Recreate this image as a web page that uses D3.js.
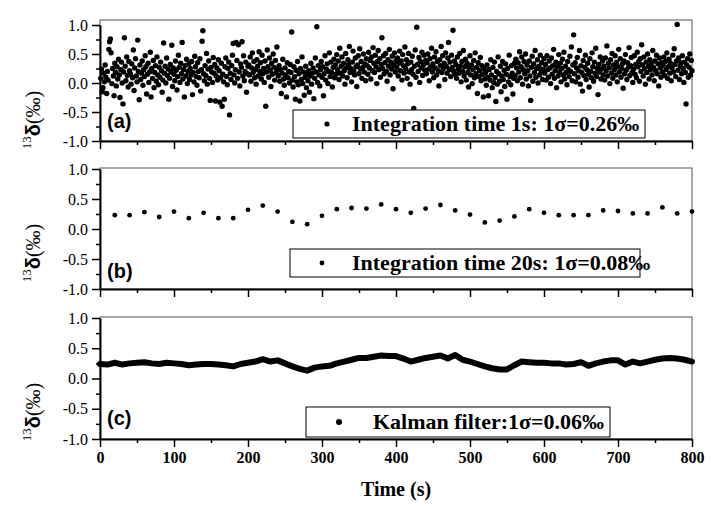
<!DOCTYPE html>
<html lang="en">
<head>
<meta charset="UTF-8">
<script src="https://cdn.jsdelivr.net/npm/d3@7"></script>
<title>13C delta noise</title>
<style>
    body { margin: 0; background: #fff; }
    svg { display: block; }
    .serif { font-family: "Liberation Serif", "Times New Roman", serif; }
    .sans { font-family: "Liberation Sans", Arial, sans-serif; }
</style>
</head>
<body>
<script>
// raw 1 s readings, delta in 1/100 per mille (t = 1..800 s)
const rawOneSec = [
    8, 24, -15, -8, 17, 2, 31, 10, -18, 20, 5, 58, 71, 76, 52, -1, 25, 12, -22, 34, 18, -5, 28, 7, 41, 14, -25, 23, 36, 0, -36, 19, 78, 29, 4, 45, 13, -7, 37, 21,
    16, -2, 33, 9, 57, -13, 26, 42, 12, 2, 74, 20, -29, 31, 6, 17, 38, -4, 23, 11, 47, 28, -19, 15, 34, 1, 19, 53, -24, 25, 8, 39, -8, 18, 30, 3, 45, 14, -3, 27,
    10, 36, 21, -16, 5, 69, 17, 29, 0, 43, 13, 24, -28, 8, 32, 19, 65, -6, 26, 15, 4, 38, 22, -12, 11, 48, 27, 1, 34, 16, 70, 7, 23, -24, 30, 12, 41, -1, 20, 33,
    6, 25, 14, 37, -20, 18, 2, 46, 28, 11, -4, 35, 20, 9, 42, -14, 23, 72, 90, 16, 4, 30, 13, 51, -2, 24, 38, 8, -30, 27, 19, 1, 44, 17, 32, -31, 12, 26, 5, 40,
    21, -33, 9, 34, -40, 15, 2, -28, 28, 43, 11, -3, 25, 36, -55, 17, 6, 30, 48, 68, 14, 0, 23, 70, 39, 8, 66, 19, -5, 33, 27, 71, 12, 47, 4, 20, 36, -16, 16, 29,
    31, 14, 45, 3, 26, 52, 18, 37, 9, 23, -2, 40, 29, 12, 54, 20, 35, 7, 48, 16, 25, 1, 38, -40, 19, 57, 28, 10, 43, 21, -6, 34, 15, 50, 27, 5, 39, 18, 62, 24,
    12, 30, 3, 23, -18, 17, 41, 7, -4, 26, 14, -24, 35, 9, 20, 0, 32, 18, 88, 5, -7, 28, 11, -28, 22, 2, 37, -3, 16, -31, 25, 6, 45, -1, 19, -21, 10, 29, -8, 15,
    4, 21, -16, 12, 34, -2, 17, 26, -27, 8, 43, 19, 97, 1, 30, 14, -5, 23, 37, 10, 28, -22, 16, 47, 5, 24, 33, -1, 20, 52, 11, 36, 18, -7, 27, 41, 9, 31, 15, 49,
    23, 38, 6, 60, 17, 29, 45, 12, 34, 21, -2, 51, 26, 9, 40, 32, 63, 18, 25, 2, 36, 55, 20, 14, 43, 28, -6, 31, 47, 16, 59, 24, 37, 8, 27, 50, 19, 33, 4, 42,
    30, 15, 53, 26, 39, 7, 45, 21, 61, 34, 18, 48, 28, -1, 37, 56, 23, 42, 10, 32, 78, 25, 47, 16, 35, 51, 20, 3, 40, 29, 58, 14, 36, 24, 46, -10, 31, 52, 19, 38,
    27, 43, 12, 34, 55, 21, 38, 5, 49, 30, 17, 62, 25, 40, 8, 33, 51, 19, -2, 36, 23, 46, 15, -44, 29, 57, 10, 96, 32, 20, 44, 1, 37, 26, 53, 13, 31, 48, 22, 39,
    16, 35, 50, 24, 4, 42, 28, 60, 19, 33, 9, 45, 26, 54, 14, 37, 21, -5, 40, 30, 63, 18, 47, 25, 34, 6, 52, 29, 17, 43, 70, 23, 36, 11, 48, 27, 91, 20, 38, 15,
    32, 8, 45, 24, 17, 51, 29, 2, 37, 20, 56, 12, 28, 41, 5, 34, 18, -7, 26, 47, 14, 31, -1, 23, 39, 9, 52, 16, 27, -18, 35, 11, 21, 44, 4, 30, 15, -24, 25, 7,
    18, -4, 31, 10, -22, 23, 5, 40, 14, -8, 27, 1, 36, 9, -32, 20, -2, 45, 16, 3, 29, -15, 12, 37, 6, 22, -6, 33, 15, -28, 25, 2, 48, 11, -3, 30, 17, -19, 8, 34,
    13, 41, 26, 4, 35, 19, 54, 9, 28, 45, -2, 23, 37, 16, 50, 7, 31, 21, -5, 38, 12, -30, 27, 46, 3, 33, 18, 56, 10, 25, 40, 0, 29, 14, 48, 21, 35, 6, 24, 42,
    17, 32, 5, 47, 23, 10, 38, 26, -1, 43, 15, 30, 58, 8, 21, 36, -8, 28, 12, 49, 19, 34, 2, 25, 41, 14, 53, 7, 29, 18, -3, 37, 23, 11, 46, 20, 62, 4, 31, 83,
    16, 35, 2, 26, 44, 10, 21, 56, -2, 30, 18, -14, 39, 13, 27, 48, 6, 23, 34, 15, -7, 42, 20, 9, 52, 28, 3, 36, 17, 60, 11, 25, -20, 32, 19, 45, 7, 24, 38, 14,
    29, 5, 43, 21, 64, 12, 34, 26, -1, 40, 17, 51, 8, 31, 23, 47, 14, 36, 2, 28, 58, 19, 42, 10, 25, 33, -9, 38, 16, 49, 22, 6, 35, 27, 61, 13, 30, 44, 18, 1,
    24, 47, 15, 32, 9, 53, 28, 37, 3, 42, 20, 66, 31, 12, 45, 25, -2, 36, 18, 50, 29, 7, 40, 23, 34, 14, 56, 27, 4, 38, 21, 48, 16, 33, -5, 43, 26, 10, 35, 19,
    30, 45, 13, 37, 23, 52, 8, 28, 41, 17, 34, 4, 26, 48, 19, 59, 32, 11, 38, 101, 22, 43, 6, 29, 35, 16, 47, 25, 1, 36, 18, -36, 31, 42, 10, 27, 50, 14, 39, 21
];

// 20 s averages (t = 20..800 s)
const avgTwentySec = [
    0.23, 0.23, 0.28, 0.20, 0.29, 0.18, 0.27, 0.18, 0.18, 0.32,
    0.39, 0.29, 0.12, 0.08, 0.22, 0.33, 0.35, 0.34, 0.41, 0.33,
    0.27, 0.34, 0.40, 0.31, 0.24, 0.11, 0.14, 0.21, 0.33, 0.27,
    0.23, 0.23, 0.23, 0.31, 0.30, 0.26, 0.26, 0.36, 0.26, 0.29
];

// Kalman filtered trace (t = 0..800 s, every 10 s)
const kalmanTrace = [
    0.24, 0.23, 0.26, 0.23, 0.25, 0.26, 0.27, 0.25, 0.24, 0.26,
    0.25, 0.24, 0.22, 0.23, 0.24, 0.24, 0.23, 0.22, 0.20, 0.24,
    0.26, 0.28, 0.32, 0.28, 0.30, 0.25, 0.20, 0.16, 0.13, 0.18,
    0.20, 0.21, 0.25, 0.28, 0.31, 0.34, 0.34, 0.36, 0.38, 0.37,
    0.37, 0.33, 0.28, 0.31, 0.34, 0.36, 0.38, 0.33, 0.39, 0.31,
    0.28, 0.24, 0.20, 0.17, 0.15, 0.15, 0.22, 0.28, 0.27, 0.26,
    0.26, 0.25, 0.25, 0.23, 0.24, 0.27, 0.21, 0.25, 0.28, 0.30,
    0.30, 0.23, 0.28, 0.25, 0.28, 0.31, 0.33, 0.34, 0.33, 0.31,
    0.28
];

const xMajor = [0, 100, 200, 300, 400, 500, 600, 700, 800];
const xMinor = [50, 150, 250, 350, 450, 550, 650, 750];
const yMajor = [-1.0, -0.5, 0.0, 0.5, 1.0];
const yMinor = [-0.75, -0.25, 0.25, 0.75];
const panelTags = ["(a)", "(b)", "(c)"];
const legendLabels = [
    "Integration time 1s: 1\u03c3=0.26\u2030",
    "Integration time 20s: 1\u03c3=0.08\u2030",
    "Kalman filter:1\u03c3=0.06\u2030"
];

const W = 711, H = 508;
const svg = d3.select("body").append("svg")
    .attr("width", W)
    .attr("height", H);

const x = d3.scaleLinear().domain([0, 800]).range([100, 692]);

// layout for each panel: frame top, pixel of +1.0, pixel of -1.0, label spots, legend box
const panels = [
    { top: 20, y1: 25, y0: 141, tagY: 128, ylab: 120,
      box: [293, 110, 352, 28], dot: [327, 2.6], textX: 352 },
    { top: 168, y1: 169, y0: 289, tagY: 278, ylab: 253,
      box: [290, 249, 350, 28], dot: [322, 2.4], textX: 352 },
    { top: 317, y1: 318, y0: 439, tagY: 425, ylab: 412,
      box: [306, 407, 304, 30], dot: [339, 3], textX: 373 }
];

panels.forEach((p, i) => {
    const y = d3.scaleLinear().domain([-1, 1]).range([p.y0, p.y1]);
    const g = svg.append("g");

    // thin grey frame
    g.append("rect")
        .attr("x", x(0)).attr("y", p.top)
        .attr("width", x(800) - x(0)).attr("height", p.y0 - p.top)
        .attr("fill", "none")
        .attr("stroke", "#555")
        .attr("stroke-width", 1);

    // data
    if (i === 0) {
        g.selectAll("circle.pt")
            .data(rawOneSec)
            .enter()
            .append("circle")
            .attr("cx", (d, k) => x(k + 1))
            .attr("cy", d => y(d / 100))
            .attr("r", 2.7)
            .attr("fill", "#000");
    } else if (i === 1) {
        g.selectAll("circle.pt")
            .data(avgTwentySec)
            .enter()
            .append("circle")
            .attr("cx", (d, k) => x((k + 1) * 20))
            .attr("cy", d => y(d))
            .attr("r", 2.4)
            .attr("fill", "#000");
    } else {
        const line = d3.line()
            .x((d, k) => x(k * 10))
            .y(d => y(d));
        g.append("path")
            .attr("d", line(kalmanTrace))
            .attr("fill", "none")
            .attr("stroke", "#000")
            .attr("stroke-width", 6)
            .attr("stroke-linejoin", "round")
            .attr("stroke-linecap", "round");
    }

    // x axis, major + minor
    const xAx = g.append("g").attr("transform", `translate(0,${p.y0})`)
        .call(d3.axisBottom(x).tickValues(xMajor).tickSize(8).tickSizeOuter(0).tickPadding(5)
            .tickFormat(i === 2 ? d3.format("d") : ""));
    g.append("g").attr("transform", `translate(0,${p.y0})`)
        .call(d3.axisBottom(x).tickValues(xMinor).tickSize(4).tickSizeOuter(0).tickFormat(""))
        .select(".domain").remove();

    // y axis, major + minor
    const yAx = g.append("g").attr("transform", `translate(${x(0)},0)`)
        .call(d3.axisLeft(y).tickValues(yMajor).tickSize(8).tickSizeOuter(0).tickPadding(4)
            .tickFormat(d3.format(".1f")));
    g.append("g").attr("transform", `translate(${x(0)},0)`)
        .call(d3.axisLeft(y).tickValues(yMinor).tickSize(4).tickSizeOuter(0).tickFormat(""))
        .select(".domain").remove();

    g.selectAll(".domain").attr("stroke", "#000").attr("stroke-width", 2);
    g.selectAll(".tick line").attr("stroke", "#000").attr("stroke-width", 1.5);

    yAx.selectAll("text")
        .attr("class", "serif")
        .attr("font-size", 16)
        .attr("fill", "#000")
        .text(d => d3.format(".1f")(d).replace("\u2212", "-"));
    xAx.selectAll("text")
        .attr("class", "serif")
        .attr("font-size", 16)
        .attr("font-weight", "bold")
        .attr("fill", "#000");

    // panel tag
    g.append("text")
        .attr("class", "sans")
        .attr("x", 107).attr("y", p.tagY)
        .attr("font-size", 20)
        .attr("font-weight", "bold")
        .text(panelTags[i]);

    // legend box
    g.append("rect")
        .attr("x", p.box[0]).attr("y", p.box[1])
        .attr("width", p.box[2]).attr("height", p.box[3])
        .attr("fill", "#fff")
        .attr("stroke", "#000")
        .attr("stroke-width", 1);
    g.append("circle")
        .attr("cx", p.dot[0]).attr("cy", p.box[1] + p.box[3] / 2)
        .attr("r", p.dot[1])
        .attr("fill", "#000");
    g.append("text")
        .attr("class", "serif")
        .attr("x", p.textX).attr("y", p.box[1] + p.box[3] / 2 + 7)
        .attr("font-size", 22)
        .attr("font-weight", "bold")
        .text(legendLabels[i]);

    // y label: 13 delta (per mille)
    const yl = g.append("text")
        .attr("transform", `translate(40,${p.ylab}) rotate(-90)`)
        .attr("text-anchor", "middle");
    yl.append("tspan").attr("class", "serif").attr("font-size", 13)
        .attr("dy", -9).text("13");
    yl.append("tspan").attr("class", "sans").attr("font-size", 20)
        .attr("font-weight", "bold").attr("dy", 9).text("\u03b4");
    yl.append("tspan").attr("class", "serif").attr("font-size", 20)
        .text("(\u2030)");
});

svg.append("text")
    .attr("class", "serif")
    .attr("x", x(400)).attr("y", 496)
    .attr("text-anchor", "middle")
    .attr("font-size", 20)
    .attr("font-weight", "bold")
    .text("Time (s)");
</script>
</body>
</html>
